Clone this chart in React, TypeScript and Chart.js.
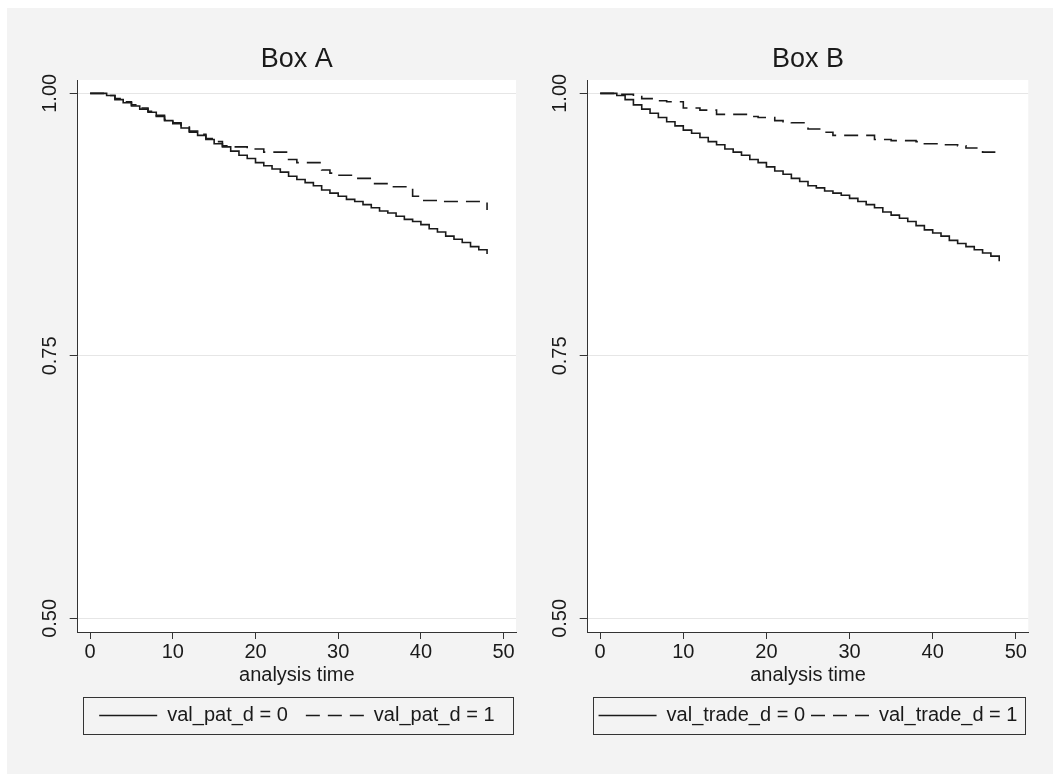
import React, { useEffect, useRef } from "react";
import { Chart, registerables } from "chart.js";

Chart.register(...registerables);

// ---- data ----
const months = [
  0, 1, 2, 3, 4, 5, 6, 7, 8, 9, 10, 11, 12, 13, 14, 15, 16, 17, 18, 19, 20, 21, 22, 23, 24,
  25, 26, 27, 28, 29, 30, 31, 32, 33, 34, 35, 36, 37, 38, 39, 40, 41, 42, 43, 44, 45, 46, 47, 48,
];

const boxASolid = [
  1.0, 1.0, 0.998, 0.994, 0.991, 0.988, 0.985, 0.982, 0.978, 0.974,
  0.971, 0.967, 0.963, 0.96, 0.956, 0.952, 0.949, 0.945, 0.941, 0.938,
  0.934, 0.931, 0.928, 0.925, 0.921, 0.918, 0.915, 0.912, 0.908, 0.905,
  0.902, 0.899, 0.897, 0.894, 0.891, 0.888, 0.886, 0.883, 0.88, 0.878,
  0.875, 0.871, 0.868, 0.864, 0.861, 0.858, 0.854, 0.851, 0.847,
];

const boxADashed = [
  1.0, 1.0, 0.998, 0.995, 0.992, 0.989, 0.986, 0.983, 0.979, 0.975,
  0.972, 0.968, 0.964, 0.961, 0.957, 0.954, 0.95, 0.949, 0.949, 0.947,
  0.947, 0.944, 0.944, 0.944, 0.937, 0.934, 0.934, 0.934, 0.927, 0.924,
  0.922, 0.922, 0.919, 0.919, 0.914, 0.914, 0.911, 0.911, 0.911, 0.902,
  0.898, 0.898, 0.897, 0.897, 0.897, 0.897, 0.897, 0.897, 0.889,
];

const boxBSolid = [
  1.0, 1.0, 0.998, 0.994, 0.989, 0.985, 0.981, 0.977, 0.973, 0.969,
  0.965, 0.962, 0.958, 0.954, 0.951, 0.947, 0.944, 0.941, 0.937, 0.934,
  0.93, 0.926, 0.923, 0.919, 0.916, 0.912, 0.91, 0.907, 0.905, 0.903,
  0.9, 0.897, 0.894, 0.891, 0.887, 0.884, 0.881, 0.878, 0.874, 0.87,
  0.867, 0.864, 0.86, 0.857, 0.854, 0.851, 0.848, 0.845, 0.84,
];

const boxBDashed = [
  1.0, 1.0, 0.999, 0.999, 0.997, 0.995, 0.995, 0.993, 0.992, 0.992,
  0.986, 0.986, 0.984, 0.984, 0.98, 0.98, 0.98, 0.98, 0.978, 0.977,
  0.977, 0.974, 0.973, 0.972, 0.972, 0.966, 0.966, 0.963, 0.96, 0.96,
  0.96, 0.96, 0.96, 0.956, 0.956, 0.955, 0.955, 0.955, 0.954, 0.952,
  0.952, 0.951, 0.951, 0.95, 0.948, 0.948, 0.944, 0.944, 0.944,
];

const xTicks = [0, 10, 20, 30, 40, 50];
const yTicks = [0.5, 0.75, 1.0];
const xAxisTitle = "analysis time";
const legendA = ["val_pat_d = 0", "val_pat_d = 1"];
const legendB = ["val_trade_d = 0", "val_trade_d = 1"];

const FONT = "'Liberation Sans', Arial, Helvetica, sans-serif";
const INK = "#1a1a1a";
const AXIS = "#333333";
const DASH = [14, 8];

Chart.defaults.font.family = FONT;

type PanelProps = {
  title: string;
  labels: string[];
  solid: number[];
  dashed: number[];
  left: number;
  padRight: number;
  legendPad: number;
  legendLine: number;
  xHeight: number;
  xTitlePad: number;
};

const plotBg = {
  id: "plotBg",
  beforeDraw(chart: any) {
    const { ctx, chartArea } = chart;
    ctx.save();
    ctx.fillStyle = "#ffffff";
    ctx.fillRect(chartArea.left, chartArea.top, chartArea.right - chartArea.left, chartArea.bottom - chartArea.top);
    ctx.restore();
  },
};

const legendFrame = {
  id: "legendFrame",
  afterDraw(chart: any) {
    const lg = chart.legend;
    if (!lg || !lg.legendHitBoxes || !lg.legendHitBoxes.length) return;
    const hb = lg.legendHitBoxes;
    const first = hb[0];
    const cy = first.top + first.height / 2;
    const { ctx, chartArea } = chart;
    const x0 = chartArea.left + 5.5;
    const x1 = chartArea.right - 3;
    ctx.save();
    ctx.strokeStyle = AXIS;
    ctx.lineWidth = 1;
    ctx.setLineDash([]);
    ctx.strokeRect(Math.round(x0) + 0.5, Math.round(cy - 18.5) + 0.5, Math.round(x1 - x0), 37);
    ctx.restore();
  },
};

function Panel(p: PanelProps) {
  const ref = useRef<HTMLCanvasElement | null>(null);
  useEffect(() => {
    if (!ref.current) return;
    const chart = new Chart(ref.current, {
      type: "line",
      data: {
        datasets: [
          {
            label: p.labels[0],
            data: months.map((t, i) => ({ x: t, y: p.solid[i] })),
            borderColor: INK,
            backgroundColor: INK,
            borderWidth: 1.6,
            pointRadius: 0,
            stepped: true,
            fill: false,
          },
          {
            label: p.labels[1],
            data: months.map((t, i) => ({ x: t, y: p.dashed[i] })),
            borderColor: INK,
            backgroundColor: INK,
            borderWidth: 1.6,
            borderDash: DASH,
            pointRadius: 0,
            stepped: true,
            fill: false,
          },
        ],
      },
      options: {
        animation: false,
        responsive: false,
        maintainAspectRatio: false,
        events: [],
        layout: { padding: { left: 30.7, right: p.padRight, top: 20, bottom: 38.5 } },
        scales: {
          x: {
            type: "linear",
            min: -1.5,
            max: 51.5,
            afterBuildTicks: (s: any) => {
              s.ticks = xTicks.map((v) => ({ value: v }));
            },
            afterFit: (s: any) => {
              s.height = p.xHeight;
            },
            ticks: { minRotation: 0, maxRotation: 0, padding: 1, font: { size: 20 }, color: INK },
            grid: { drawOnChartArea: false, tickColor: AXIS, tickLength: 7 },
            border: { display: true, color: AXIS, width: 1 },
            title: {
              display: true,
              text: xAxisTitle,
              font: { size: 20 },
              color: INK,
              padding: { top: 0, bottom: p.xTitlePad },
            },
          },
          y: {
            type: "linear",
            min: 0.487,
            max: 1.0127,
            afterBuildTicks: (s: any) => {
              s.ticks = yTicks.map((v) => ({ value: v }));
            },
            afterFit: (s: any) => {
              s.width = 40;
            },
            ticks: {
              minRotation: 90,
              maxRotation: 90,
              crossAlign: "center",
              padding: 0,
              font: { size: 20 },
              color: INK,
              callback: (v: any) => Number(v).toFixed(2),
            },
            grid: { color: "#e6e6e6", tickColor: AXIS, tickLength: 8, lineWidth: 1 },
            border: { display: true, color: AXIS, width: 1 },
          },
        },
        plugins: {
          tooltip: { enabled: false },
          title: {
            display: true,
            text: p.title,
            fullSize: false,
            color: INK,
            font: { size: 27, weight: "normal" },
            padding: { top: 15.3, bottom: 4.3 },
          },
          legend: {
            display: true,
            position: "bottom",
            fullSize: false,
            align: "center",
            labels: {
              usePointStyle: true,
              pointStyle: "line",
              pointStyleWidth: p.legendLine,
              padding: p.legendPad,
              color: INK,
              font: { size: 20 },
              generateLabels: (chart: any) => {
                const items = (Chart.defaults as any).plugins.legend.labels.generateLabels(chart);
                return items.map((it: any) => {
                  const ds = chart.data.datasets[it.datasetIndex];
                  return {
                    ...it,
                    lineDash: ds.borderDash || [],
                    lineWidth: ds.borderWidth,
                    strokeStyle: ds.borderColor,
                    fillStyle: ds.borderColor,
                  };
                });
              },
            },
          },
        },
      } as any,
      plugins: [plotBg, legendFrame],
    });
    return () => chart.destroy();
  }, []);
  return (
    <canvas
      ref={ref}
      width={520}
      height={766}
      style={{ position: "absolute", left: p.left, top: 0, width: 520, height: 766 }}
    />
  );
}

export default function App() {
  return (
    <div
      style={{
        position: "fixed",
        left: 7,
        top: 8,
        right: 0,
        bottom: 0,
        background: "#f3f3f3",
        overflow: "hidden",
      }}
    >
      <Panel
        title="Box A"
        labels={legendA}
        solid={boxASolid}
        dashed={boxADashed}
        left={0}
        padRight={11}
        legendPad={18}
        legendLine={58}
        xHeight={55.5}
        xTitlePad={0.5}
      />
      <Panel
        title="Box B"
        labels={legendB}
        solid={boxBSolid}
        dashed={boxBDashed}
        left={510}
        padRight={8.7}
        legendPad={6}
        legendLine={58}
        xHeight={67.5}
        xTitlePad={12.5}
      />
    </div>
  );
}
